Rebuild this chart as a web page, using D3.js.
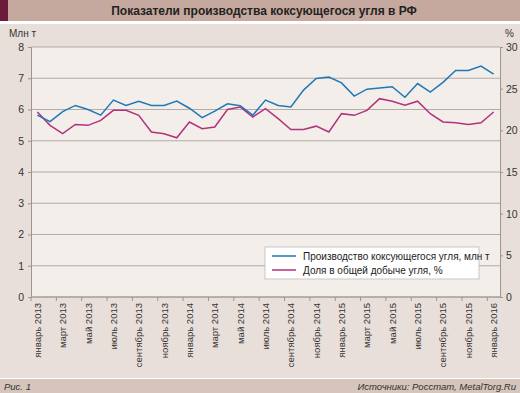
<!DOCTYPE html>
<html><head><meta charset="utf-8">
<script src="https://cdn.jsdelivr.net/npm/d3@7"></script>
<style>body{margin:0;background:#fff;}svg{display:block;}svg text{font-family:"Liberation Sans",Arial,sans-serif;}</style>
</head><body>
<svg id="c" width="520" height="393"></svg>
<script>
const monthNames = ["январь","февраль","март","апрель","май","июнь","июль","август","сентябрь","октябрь","ноябрь","декабрь"];
const months = [];
for (let y = 2013; y <= 2016; y++) for (let m = 0; m < 12; m++) { if (y === 2016 && m > 0) break; months.push(monthNames[m] + " " + y); }
const production = [5.82,5.61,5.93,6.13,6.0,5.82,6.30,6.13,6.26,6.13,6.13,6.27,6.04,5.74,5.95,6.18,6.12,5.82,6.30,6.13,6.08,6.62,6.99,7.04,6.85,6.43,6.65,6.69,6.73,6.39,6.83,6.56,6.87,7.25,7.25,7.39,7.13];
const share = [22.2,20.6,19.6,20.7,20.6,21.2,22.4,22.4,21.8,19.8,19.6,19.1,21.0,20.2,20.4,22.5,22.8,21.6,22.6,21.4,20.1,20.1,20.5,19.8,22.0,21.8,22.4,23.8,23.5,23.0,23.5,22.0,21.0,20.9,20.7,20.9,22.2];
const leftTicks = [0,1,2,3,4,5,6,7,8];
const rightTicks = [0,5,10,15,20,25,30];
const seriesNames = ["Производство коксующегося угля, млн т","Доля в общей добыче угля, %"];
const colors = ["#1f78b8","#b3327c"];
const FONT = "Liberation Sans, Arial, sans-serif";

const svg = d3.select("#c");
// backgrounds
svg.append("rect").attr("x",0).attr("y",0).attr("width",520).attr("height",21).attr("fill","#c5a99e");
svg.append("rect").attr("x",0).attr("y",0).attr("width",8).attr("height",21).attr("fill","#6b1c3b");
svg.append("rect").attr("x",0).attr("y",24).attr("width",520).attr("height",354).attr("fill","#e9dfda");
svg.append("rect").attr("x",0).attr("y",379).attr("width",520).attr("height",14).attr("fill","#d7c4ba");
svg.append("text").attr("x",264).attr("y",15).attr("text-anchor","middle").attr("font-size",12).attr("font-weight","bold").attr("fill","#222").text("Показатели производства коксующегося угля в РФ");
svg.append("text").attr("x",4).attr("y",390).attr("font-size",9.5).attr("font-style","italic").attr("font-weight","normal").attr("fill","#333").text("Рис. 1");
svg.append("text").attr("x",516).attr("y",390).attr("text-anchor","end").attr("font-size",9.5).attr("font-style","italic").attr("font-weight","normal").attr("fill","#333").text("Источники: Росстат, MetalTorg.Ru");

const L = 31, R = 500, T = 47, B = 297;
svg.append("rect").attr("x",L).attr("y",T).attr("width",R-L).attr("height",B-T).attr("fill","#f3eeea");

const x = d3.scaleBand().domain(months).range([L,R]).padding(0);
const yL = d3.scaleLinear().domain([0,8]).range([B,T]);
const yR = d3.scaleLinear().domain([0,30]).range([B,T]);

// grid
svg.append("g").selectAll("line").data(leftTicks).join("line")
  .attr("x1",L).attr("x2",R).attr("y1",d=>yL(d)).attr("y2",d=>yL(d))
  .attr("stroke","#b3aba6").attr("stroke-width",1);

const gray = "#9c9490";
const gL = svg.append("g").attr("transform",`translate(${L},0)`).call(d3.axisLeft(yL).tickValues(leftTicks).tickSize(3).tickPadding(4));
const gR = svg.append("g").attr("transform",`translate(${R},0)`).call(d3.axisRight(yR).tickValues(rightTicks).tickSize(3).tickPadding(3));
[gL,gR].forEach(g=>{g.attr("font-family",FONT); g.select(".domain").attr("stroke",gray); g.selectAll(".tick line").attr("stroke",gray); g.selectAll("text").attr("font-size",10.5).attr("fill","#333");});

// bottom axis
const boundaryTicks = months.filter((d,i)=>i%2===0);
const gB = svg.append("g").attr("transform",`translate(0,${B})`);
gB.append("line").attr("x1",L).attr("x2",R).attr("y1",0).attr("y2",0).attr("stroke",gray);
gB.selectAll("line.t").data(boundaryTicks).join("line").attr("class","t")
  .attr("x1",d=>x(d)).attr("x2",d=>x(d)).attr("y1",0).attr("y2",4).attr("stroke",gray);
gB.selectAll("text").data(boundaryTicks).join("text")
  .attr("transform",d=>`translate(${x(d)+x.bandwidth()/2+3.5},6) rotate(-90)`)
  .attr("text-anchor","end").attr("font-size",9.5).attr("fill","#333").text(d=>d);

svg.append("text").attr("x",9).attr("y",37).attr("font-size",10).attr("fill","#333").text("Млн т");
svg.append("text").attr("x",505).attr("y",37).attr("font-size",10).attr("fill","#333").text("%");

const cx = (d,i)=>x(months[i])+x.bandwidth()/2;
svg.append("path").datum(share).attr("fill","none").attr("stroke",colors[1]).attr("stroke-width",1.5)
  .attr("d",d3.line().x((d,i)=>cx(d,i)).y(d=>yR(d)));
svg.append("path").datum(production).attr("fill","none").attr("stroke",colors[0]).attr("stroke-width",1.5)
  .attr("d",d3.line().x((d,i)=>cx(d,i)).y(d=>yL(d)));

// legend
const lg = svg.append("g").attr("transform","translate(265,247)");
lg.append("rect").attr("width",214).attr("height",32).attr("fill","#fff").attr("stroke","#bbb").attr("stroke-width",0.8);
seriesNames.forEach((n,i)=>{
  lg.append("line").attr("x1",7).attr("x2",31).attr("y1",9+i*14).attr("y2",9+i*14).attr("stroke",colors[i]).attr("stroke-width",1.5);
  lg.append("text").attr("x",38).attr("y",13+i*14).attr("font-size",10).attr("fill","#222").text(n);
});
</script>
</body></html>
